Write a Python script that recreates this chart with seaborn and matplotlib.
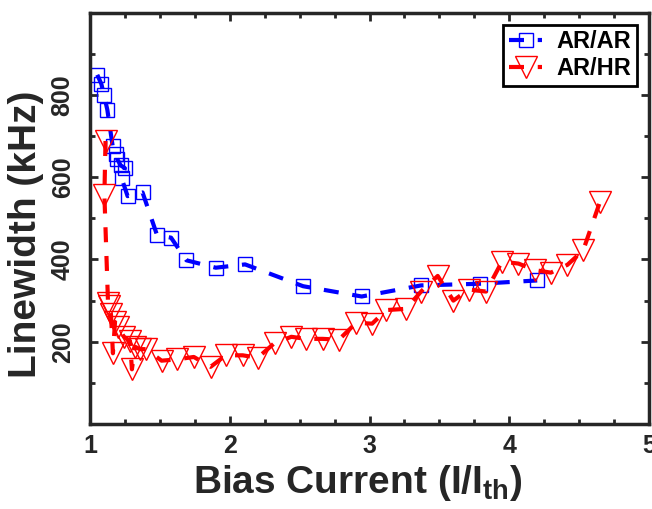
import matplotlib
matplotlib.use("Agg")
import matplotlib.pyplot as plt
from matplotlib.ticker import MultipleLocator
import numpy as np
import pandas as pd
import seaborn as sns

# ---- data ----
ar_ar_current = [1.052, 1.081, 1.100, 1.124, 1.162, 1.186, 1.195, 1.219, 1.250, 1.226,
                 1.269, 1.376, 1.480, 1.580, 1.690, 1.900, 2.110, 2.525, 2.944, 3.370,
                 3.788, 4.200]
ar_ar_linewidth = [849, 827, 800, 764, 676, 656, 644, 629, 622, 598,
                   554, 563, 459, 453, 398, 380, 388, 335, 310, 337,
                   341, 349]

ar_hr_current = [1.111, 1.103, 1.129, 1.136, 1.150, 1.164, 1.179, 1.200, 1.243, 1.286,
                 1.300, 1.321, 1.357, 1.400, 1.512, 1.621, 1.743, 1.863, 1.971, 2.093,
                 2.200, 2.321, 2.441, 2.543, 2.664, 2.781, 2.905, 3.019, 3.121, 3.261,
                 3.369, 3.488, 3.600, 3.709, 3.834, 3.948, 4.066, 4.186, 4.298, 4.416,
                 4.529, 4.648]
ar_hr_linewidth = [688, 557, 294, 287, 267, 172, 248, 235, 212, 202,
                   133, 188, 182, 182, 154, 157, 163, 139, 167, 167,
                   161, 197, 212, 207, 207, 205, 246, 244, 277, 280,
                   322, 360, 300, 327, 322, 395, 390, 374, 368, 387,
                   422, 539]

series_labels = ["AR/AR", "AR/HR"]
x_ticks = [1, 2, 3, 4, 5]
y_ticks = [200, 400, 600, 800]

# ---- style ----
sns.set_style("ticks")
plt.rcParams["font.family"] = ["Liberation Sans", "DejaVu Sans"]
plt.rcParams["font.weight"] = "bold"
plt.rcParams["mathtext.fontset"] = "custom"
plt.rcParams["mathtext.rm"] = "Liberation Sans:bold"
plt.rcParams["mathtext.bf"] = "Liberation Sans:bold"
plt.rcParams["mathtext.it"] = "Liberation Sans:bold"
plt.rcParams["mathtext.default"] = "bf"

dark = "#262626"

fig = plt.figure(figsize=(6.52, 5.09), dpi=100)
ax = fig.add_axes([90 / 652, 1 - 424 / 509, (649 - 90) / 652, (424 - 12.7) / 509])

df_a = pd.DataFrame({"current": ar_ar_current, "linewidth": ar_ar_linewidth})
df_h = pd.DataFrame({"current": ar_hr_current, "linewidth": ar_hr_linewidth})

sns.lineplot(data=df_a, x="current", y="linewidth", sort=False, estimator=None, ax=ax,
             color="blue", lw=3, linestyle="--", marker="s", markersize=10.5,
             markerfacecolor="none", markeredgecolor="blue", markeredgewidth=1,
             label=series_labels[0])
sns.lineplot(data=df_h, x="current", y="linewidth", sort=False, estimator=None, ax=ax,
             color="red", lw=3, linestyle="--", marker="v", markersize=16,
             markerfacecolor="none", markeredgecolor="red", markeredgewidth=1,
             label=series_labels[1])

for ln in ax.get_lines():
    ln.set_dashes([3.6, 3.3])

ax.set_xlim(1, 5)
ax.set_ylim(0, 1000)
ax.set_xticks(x_ticks)
ax.set_yticks(y_ticks)
ax.xaxis.set_minor_locator(MultipleLocator(0.25))
ax.yaxis.set_minor_locator(MultipleLocator(100))

for side in ["top", "right", "left", "bottom"]:
    ax.spines[side].set_visible(True)
    ax.spines[side].set_linewidth(2.5)
    ax.spines[side].set_color(dark)

ax.tick_params(which="both", direction="in", top=True, right=True, color=dark,
               width=2, labelcolor=dark, labelsize=18)
ax.tick_params(which="major", length=6)
ax.tick_params(which="minor", length=3.5)
ax.tick_params(axis="x", which="major", pad=7)
ax.tick_params(axis="y", which="major", pad=11)
for lab in ax.get_yticklabels():
    lab.set_rotation(90)
    lab.set_va("center")
    lab.set_fontweight("bold")
for lab in ax.get_xticklabels():
    lab.set_fontweight("bold")

ax.set_xlabel("Bias Current (I/I$_{th}$)", fontsize=28, fontweight="bold", color=dark)
ax.set_ylabel("Linewidth (kHz)", fontsize=28, fontweight="bold", color=dark)
ax.xaxis.set_label_coords(0.479, -0.095)
ax.yaxis.set_label_coords(-0.082, 0.462)

leg = ax.legend(loc="upper right", fontsize=17, frameon=True, fancybox=False,
                framealpha=1, edgecolor="black", borderaxespad=0.5,
                handlelength=1.4, handletextpad=0.6, labelspacing=0.15, borderpad=0.25)
leg.get_frame().set_linewidth(2)
for t in leg.get_texts():
    t.set_fontweight("bold")
    t.set_color("black")

fig.savefig("out.png", dpi=100)
